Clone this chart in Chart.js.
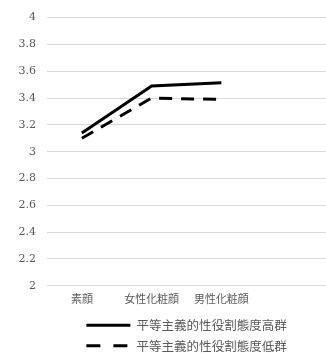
<!DOCTYPE html>
<html>
<head>
<meta charset="utf-8">
<script src="https://cdn.jsdelivr.net/npm/chart.js@4/dist/chart.umd.min.js"></script>
<style>
  html, body { margin: 0; padding: 0; background: #ffffff; }
  #wrap { width: 326px; height: 355px; position: relative; }
</style>
</head>
<body>
<div id="wrap"><canvas id="c"></canvas></div>
<script>
// Conditions on the x axis (the last slot is left empty)
const categories = ['素顔', '女性化粧顔', '男性化粧顔', ''];
// Mean scores per group
const highGroupName = '平等主義的性役割態度高群';
const highGroup = [3.14, 3.49, 3.515, null];
const lowGroupName = '平等主義的性役割態度低群';
const lowGroup = [3.10, 3.40, 3.39, null];
// Value axis range
const yMin = 2;
const yMax = 4;
const yStep = 0.2;

const labelGray = '#595959';
const serifFont = "'DejaVu Serif', 'Liberation Serif', serif";
const cjkFont = "'Noto Sans CJK JP', 'Noto Sans', sans-serif";

new Chart(document.getElementById('c'), {
  type: 'line',
  data: {
    labels: categories,
    datasets: [
      {
        label: highGroupName,
        data: highGroup,
        borderColor: '#000000',
        backgroundColor: '#000000',
        borderWidth: 3,
        pointRadius: 0,
        pointStyle: 'line',
        tension: 0,
        fill: false
      },
      {
        label: lowGroupName,
        data: lowGroup,
        borderColor: '#000000',
        backgroundColor: '#000000',
        borderWidth: 3,
        borderDash: [13, 9],
        pointRadius: 0,
        pointStyle: 'line',
        tension: 0,
        fill: false
      }
    ]
  },
  options: {
    responsive: true,
    maintainAspectRatio: false,
    animation: false,
    layout: { padding: { top: 6, right: 0, bottom: -7, left: 0 } },
    scales: {
      x: {
        offset: true,
        grid: { display: false, drawTicks: false },
        border: { display: false },
        ticks: {
          color: labelGray,
          font: { family: cjkFont, size: 11 },
          padding: 6,
          maxRotation: 0,
          autoSkip: false
        }
      },
      y: {
        min: yMin,
        max: yMax,
        grid: { color: '#d9d9d9', lineWidth: 1, drawTicks: false },
        border: { display: false },
        ticks: {
          stepSize: yStep,
          color: labelGray,
          font: { family: serifFont, size: 11 },
          padding: 11,
          callback: (v) => String(Math.round(v * 10) / 10)
        },
        afterFit: (scale) => { scale.width = 47; }
      }
    },
    plugins: {
      legend: {
        position: 'bottom',
        fullSize: false,
        labels: {
          usePointStyle: true,
          pointStyleWidth: 44,
          color: labelGray,
          font: { family: cjkFont, size: 12.5 },
          padding: 8,
          // line swatches keep each dataset's dash pattern
          generateLabels: (chart) => chart.data.datasets.map((ds, i) => ({
            text: ds.label,
            datasetIndex: i,
            pointStyle: 'line',
            strokeStyle: ds.borderColor,
            fillStyle: ds.borderColor,
            lineWidth: ds.borderWidth,
            lineDash: ds.borderDash ? [14, 13] : [],
            fontColor: labelGray,
            hidden: !chart.isDatasetVisible(i)
          }))
        }
      },
      tooltip: { enabled: false }
    }
  }
});
</script>
</body>
</html>
